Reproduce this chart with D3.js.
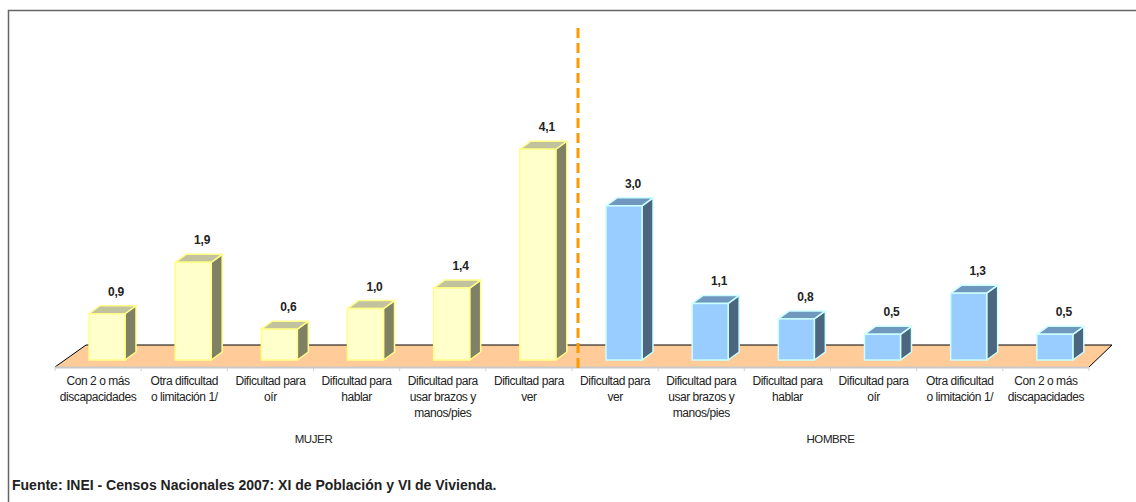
<!DOCTYPE html>
<html>
<head>
<meta charset="utf-8">
<script src="https://cdn.jsdelivr.net/npm/d3@7"></script>
<style>
  body { margin: 0; background: #fff; }
  text { font-family: "Liberation Sans Narrow", "Arial Narrow", "Liberation Sans", Arial, sans-serif; fill: #222; }
</style>
</head>
<body>
<div id="chart"></div>
<script>
// data
var categories = [
    ["Con 2 o más", "discapacidades"],
    ["Otra dificultad", "o limitación 1/"],
    ["Dificultad para", "oír"],
    ["Dificultad para", "hablar"],
    ["Dificultad para", "usar brazos y", "manos/pies"],
    ["Dificultad para", "ver"],
    ["Dificultad para", "ver"],
    ["Dificultad para", "usar brazos y", "manos/pies"],
    ["Dificultad para", "hablar"],
    ["Dificultad para", "oír"],
    ["Otra dificultad", "o limitación 1/"],
    ["Con 2 o más", "discapacidades"]
];
var groups = ["MUJER", "HOMBRE"];
var mujerValues = [0.9, 1.9, 0.6, 1.0, 1.4, 4.1];
var hombreValues = [3.0, 1.1, 0.8, 0.5, 1.3, 0.5];

var width = 1136, height = 502;

var svg = d3.select("#chart").append("svg")
    .attr("width", width)
    .attr("height", height);

// frame (left + top only, as in the source image)
svg.append("path")
    .attr("d", "M8.5," + height + " L8.5,10.5 L" + width + ",10.5")
    .attr("fill", "none")
    .attr("stroke", "#666")
    .attr("stroke-width", 1.5);

var data = [];
mujerValues.forEach((v, i) => data.push({ idx: i, value: v, group: 0, label: categories[i] }));
hombreValues.forEach((v, i) => data.push({ idx: i + 6, value: v, group: 1, label: categories[i + 6] }));

var x = d3.scaleBand()
    .domain(d3.range(12))
    .range([55, 1089])
    .padding(0);

var baseY = 360;
var y = d3.scaleLinear()
    .domain([0, 1])
    .range([baseY, baseY - 51.4]);

// floor (3d plane)
var floorFront = 367, floorBack = 345, fdx = 31;
var x0 = x.range()[0], x1 = x.range()[1];
svg.append("path")
    .attr("d", `M${x0},${floorFront} L${x0 + fdx},${floorBack} L${x1 + fdx - 8},${floorBack} L${x1},${floorFront} Z`)
    .attr("fill", "#FFCC99");
svg.append("path")
    .attr("d", `M${x0},${floorFront} L${x0 + fdx},${floorBack} L${x1 + fdx - 8},${floorBack} L${x1},${floorFront}`)
    .attr("fill", "none")
    .attr("stroke", "#000")
    .attr("stroke-width", 1);
svg.append("line")
    .attr("x1", x0).attr("x2", x1)
    .attr("y1", floorFront + 0.5).attr("y2", floorFront + 0.5)
    .attr("stroke", "#c8c8c8")
    .attr("stroke-width", 2);

// category ticks
svg.append("g")
    .selectAll("line")
    .data(d3.range(13))
    .enter()
    .append("line")
    .attr("x1", d => x0 + d * x.bandwidth())
    .attr("x2", d => x0 + d * x.bandwidth())
    .attr("y1", floorFront)
    .attr("y2", floorFront + 4)
    .attr("stroke", "#d0d0d0");

// bars
var colors = [
    { front: "#FFFFCC", top: "#C2C29E", side: "#808064", stroke: "#FFFF88" },
    { front: "#99CCFF", top: "#7098BF", side: "#4D6680", stroke: "#CCFFFF" }
];
var barW = 36, ddx = 11, ddy = 8, barOff = 34;

var bars = svg.append("g")
    .selectAll("g")
    .data(data)
    .enter()
    .append("g");

bars.append("path")
    .attr("d", d => {
        var l = x(d.idx) + barOff, r = l + barW, t = y(d.value);
        return `M${r},${baseY} L${r + ddx},${baseY - ddy} L${r + ddx},${t - ddy} L${r},${t} Z`;
    })
    .attr("fill", d => colors[d.group].side)
    .attr("stroke", d => colors[d.group].stroke)
    .attr("stroke-width", 1.5)
    .attr("stroke-linejoin", "round");

bars.append("path")
    .attr("d", d => {
        var l = x(d.idx) + barOff, r = l + barW, t = y(d.value);
        return `M${l},${t} L${l + ddx},${t - ddy} L${r + ddx},${t - ddy} L${r},${t} Z`;
    })
    .attr("fill", d => colors[d.group].top)
    .attr("stroke", d => colors[d.group].stroke)
    .attr("stroke-width", 1.5)
    .attr("stroke-linejoin", "round");

bars.append("rect")
    .attr("x", d => x(d.idx) + barOff)
    .attr("y", d => y(d.value))
    .attr("width", barW)
    .attr("height", d => baseY - y(d.value))
    .attr("fill", d => colors[d.group].front)
    .attr("stroke", d => colors[d.group].stroke)
    .attr("stroke-width", 1.5);

// value labels
bars.append("text")
    .attr("x", d => x(d.idx) + barOff + barW / 2 + 9)
    .attr("y", d => y(d.value) - 18)
    .attr("text-anchor", "middle")
    .attr("font-size", 12)
    .attr("font-weight", "bold")
    .attr("letter-spacing", "-0.2px")
    .text(d => d3.format(".1f")(d.value).replace(".", ","));

// separator line
var sepX = x(6) + 6;
svg.append("line")
    .attr("x1", sepX).attr("x2", sepX)
    .attr("y1", 28).attr("y2", 369)
    .attr("stroke", "#FF9900")
    .attr("stroke-width", 3)
    .attr("stroke-dasharray", "10,5");

// category labels
var labels = svg.append("g")
    .selectAll("text")
    .data(data)
    .enter()
    .append("text")
    .attr("text-anchor", "middle")
    .attr("font-size", 12)
    .attr("letter-spacing", "-0.45px")
    .attr("x", d => x(d.idx) + x.bandwidth() / 2)
    .attr("y", 385);

labels.selectAll("tspan")
    .data(d => d.label.map(s => ({ s: s, cx: x(d.idx) + x.bandwidth() / 2 })))
    .enter()
    .append("tspan")
    .attr("x", d => d.cx)
    .attr("dy", (d, i) => i === 0 ? 0 : 16)
    .text(d => d.s);

// group labels
svg.append("g")
    .selectAll("text")
    .data(groups)
    .enter()
    .append("text")
    .attr("x", (d, i) => (x(i * 6) + x(i * 6 + 5) + x.bandwidth()) / 2)
    .attr("y", 443)
    .attr("text-anchor", "middle")
    .attr("font-size", 11.5)
    .attr("letter-spacing", "-0.4px")
    .text(d => d);

// source
svg.append("text")
    .attr("x", 12)
    .attr("y", 490)
    .attr("font-size", 14)
    .attr("font-weight", "bold")
    .text("Fuente: INEI - Censos Nacionales 2007: XI de Población y VI de Vivienda.");
</script>
</body>
</html>
